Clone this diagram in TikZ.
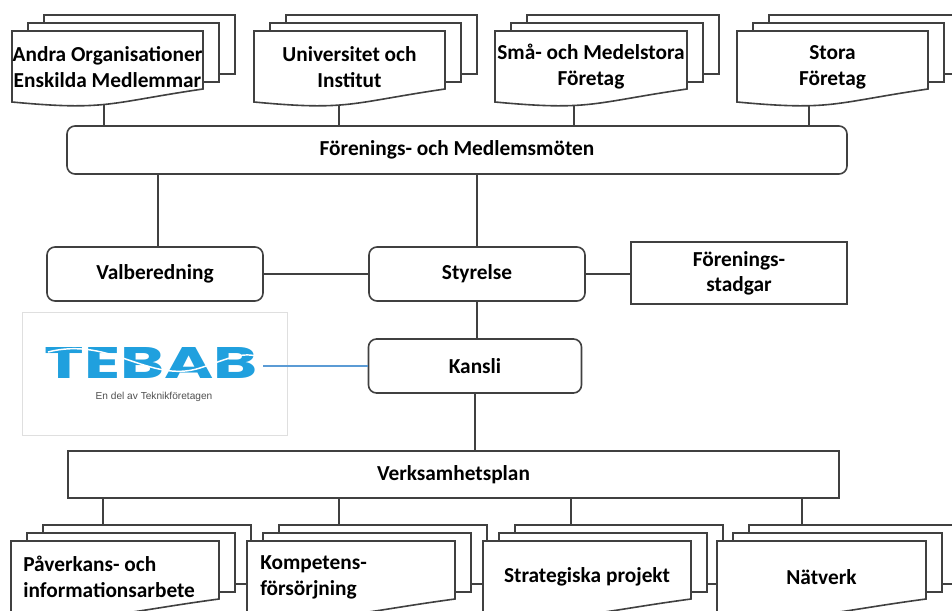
\documentclass[tikz,border=0pt]{standalone}
\usepackage{fontspec}
\setmainfont{Carlito}
\newfontfamily\logofont{Poppins}
\newfontfamily\tagfont{Liberation Sans}
\usepackage{graphicx}
\usetikzlibrary{backgrounds}
\definecolor{ln}{RGB}{64,64,64}
\definecolor{logoblue}{RGB}{32,160,222}
\definecolor{linkblue}{RGB}{91,155,213}
\definecolor{taggray}{RGB}{80,80,80}
\tikzset{
  x=0.75pt, y=-0.75pt,
  shapeline/.style={draw=ln, line width=1.2pt, fill=white},
  conn/.style={draw=ln, line width=1.2pt},
  boxfont/.style={font=\fontsize{16}{18.75}\selectfont\bfseries},
  rbox/.style={shapeline, rounded corners=6pt, inner sep=0pt, boxfont, align=center},
  sbox/.style={shapeline, inner sep=0pt, boxfont, align=center},
  doctext/.style={inner sep=0pt, font=\fontsize{16}{19.5}\selectfont\bfseries},
}
% #1 name, #2 left, #3 top, #4 width, #5 text, #6 node options, #7 text x
\newcommand\mdoc[7]{%
  \draw[shapeline] ({#2+32},{#3-16}) rectangle ({#2+#4+32},{#3+43});
  \draw[shapeline] ({#2+16},{#3-8}) rectangle ({#2+#4+16},{#3+51});
  \draw[shapeline] (#2,#3) -- ({#2+#4},#3) -- ({#2+#4},{#3+58})
     .. controls ({#2+#4/2},{#3+72}) and ({#2+#4/2},{#3+80}) .. (#2,{#3+71}) -- cycle;
  \node[doctext, #6] (#1) at (#7,{#3+36}) {#5};
}
\begin{document}
\begin{tikzpicture}
\useasboundingbox (0,0) rectangle (952,610);
\clip (0,0) rectangle (952,610);

% top documents
\mdoc{andra}{12}{31}{191}{Andra Organisationer\\Enskilda Medlemmar}{align=center}{107.5}
\mdoc{univ}{254}{31}{191}{Universitet och\\Institut}{align=center}{349.5}
\mdoc{sma}{495}{31}{192}{Små- och Medelstora\\Företag}{align=center}{591}
\mdoc{stora}{737}{31}{191}{Stora\\Företag}{align=center}{832.5}

% middle boxes
\node[rbox, minimum width=780*0.75pt, minimum height=48*0.75pt] (bar) at (457,150) {Förenings- och Medlemsmöten};
\node[rbox, minimum width=216*0.75pt, minimum height=54*0.75pt] (valb) at (155,274) {Valberedning};
\node[rbox, minimum width=216*0.75pt, minimum height=54*0.75pt] (styr) at (477,274) {Styrelse};
\node[sbox, minimum width=216*0.75pt, minimum height=62*0.75pt] (stad) at (739,273) {Förenings-\\stadgar};
\node[rbox, minimum width=213*0.75pt, minimum height=54*0.75pt] (kansli) at (475,366) {Kansli};
\node[sbox, minimum width=771*0.75pt, minimum height=47*0.75pt] (verk) at (453.5,474.5) {Verksamhetsplan};

% logo
\node[draw=gray!25, line width=0.6pt, fill=white, minimum width=265*0.75pt, minimum height=123*0.75pt, inner sep=0pt] (logo) at (154.5,373.5) {};
\node[inner sep=0pt, text=logoblue] (tebab) at (151.5,362.5) {\resizebox{159.75pt}{23.25pt}{\logofont\bfseries TEBAB}};
\draw[white, line width=1.1pt] (48,352) .. controls (110,336) and (150,384) .. (200,368) .. controls (225,360) and (240,352) .. (256,356);
\node[inner sep=0pt, text=taggray, font=\tagfont\fontsize{7.6}{9}\selectfont] (tag) at (154,397) {En del av Teknikföretagen};
\coordinate (logoend) at (263,366);
\draw[linkblue, line width=1pt] (logoend) -- (kansli.west);

% bottom documents
\mdoc{pav}{11}{541}{208}{Påverkans- och\\informationsarbete}{anchor=west, align=left}{23}
\mdoc{komp}{247}{541}{208}{Kompetens-\\försörjning}{anchor=west, align=left}{260}
\mdoc{strat}{483}{541}{208}{Strategiska projekt}{align=center}{587}
\mdoc{natv}{717}{541}{209}{Nätverk}{align=center}{821.5}

% connector end points
\coordinate (c1) at (104,80);
\coordinate (c2) at (339,80);
\coordinate (c3) at (574,80);
\coordinate (c4) at (809,80);
\coordinate (d1) at (103,560);
\coordinate (d2) at (339,560);
\coordinate (d3) at (571,560);
\coordinate (d4) at (802,560);

\begin{scope}[on background layer]
  \foreach \c in {c1,c2,c3,c4} \draw[conn] (\c) -- (\c |- bar.north);
  \foreach \d in {d1,d2,d3,d4} \draw[conn] (\d |- verk.south) -- (\d);
  \draw[conn] ([xshift=2.25pt]valb.north) -- ([xshift=2.25pt]valb.north |- bar.south);
  \draw[conn] (styr.north) -- (styr.north |- bar.south);
  \draw[conn] (valb.east) -- (styr.west);
  \draw[conn] (styr.east) -- (styr.east -| stad.west);
  \draw[conn] (styr.south) -- (styr.south |- kansli.north);
  \draw[conn] (kansli.south) -- (kansli.south |- verk.north);
\end{scope}
\end{tikzpicture}
\end{document}
